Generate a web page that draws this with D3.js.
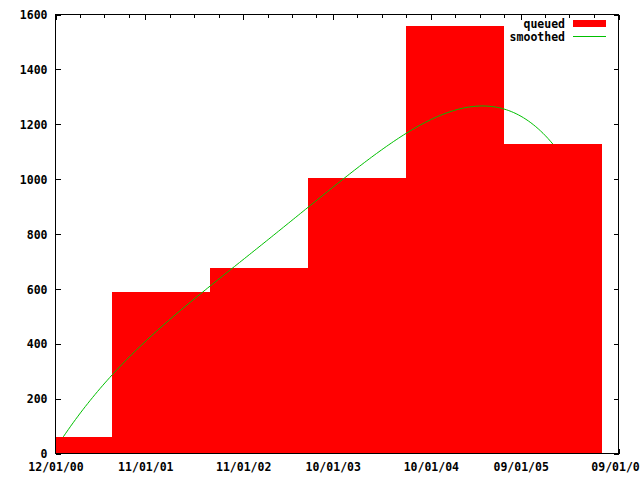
<!DOCTYPE html>
<html>
<head>
<meta charset="utf-8">
<script src="https://cdn.jsdelivr.net/npm/d3@7"></script>
<style>
  html, body { margin: 0; padding: 0; background: #fff; }
  svg { display: block; }
  text { font-family: "DejaVu Sans Mono", "Liberation Mono", monospace; font-weight: bold; font-size: 11.5px; fill: #000; }
</style>
</head>
<body>
<script>
// ---- data ----
const periods = ["2001-01-01", "2002-01-01", "2003-01-01", "2004-01-01", "2005-01-01", "2006-01-01"];
const queued = [59, 586, 674, 1002, 1555, 1126];
const xTickDates = ["2000-12-01", "2001-11-01", "2002-11-01", "2003-10-01", "2004-10-01", "2005-09-01", "2006-09-01"];
const yTicks = [0, 200, 400, 600, 800, 1000, 1200, 1400, 1600];
const seriesNames = ["queued", "smoothed"];

const W = 640, H = 480;
const L = 55, R = 618, T = 14, B = 453;

const parse = d3.utcParse("%Y-%m-%d");
const dates = periods.map(parse);
const tickDates = xTickDates.map(parse);

const svg = d3.select("body").append("svg").attr("width", W).attr("height", H);

const x = d3.scaleUtc().domain([tickDates[0], tickDates[tickDates.length - 1]]).range([L, R]);
const y = d3.scaleLinear().domain([0, 1600]).range([B, T]);

// minor ticks every 3 months after each major tick
const minor = [];
for (let i = 0; i < tickDates.length - 1; i++) {
  for (let m = 3; m < 12; m += 3) {
    const d = d3.utcMonth.offset(tickDates[i], m);
    if (d < tickDates[i + 1]) minor.push(d);
  }
}

const fmt = d3.utcFormat("%m/%d/%y");

// axes (ticks inward)
const gx = svg.append("g").attr("transform", `translate(0.5,${B + 0.5})`)
  .call(d3.axisBottom(x).tickValues(tickDates).tickFormat(fmt).tickSizeInner(-5).tickSizeOuter(0).tickPadding(9));
const gxm = svg.append("g").attr("transform", `translate(0.5,${B + 0.5})`)
  .call(d3.axisBottom(x).tickValues(minor).tickFormat("").tickSizeInner(-3).tickSizeOuter(0));
const gxt = svg.append("g").attr("transform", `translate(0.5,${T + 0.5})`)
  .call(d3.axisTop(x).tickValues(tickDates).tickFormat("").tickSizeInner(-5).tickSizeOuter(0));
const gxtm = svg.append("g").attr("transform", `translate(0.5,${T + 0.5})`)
  .call(d3.axisTop(x).tickValues(minor).tickFormat("").tickSizeInner(-3).tickSizeOuter(0));
const gy = svg.append("g").attr("transform", `translate(${L + 0.5},0.5)`)
  .call(d3.axisLeft(y).tickValues(yTicks).tickFormat(d3.format("d")).tickSizeInner(-5).tickSizeOuter(0).tickPadding(8));
const gyr = svg.append("g").attr("transform", `translate(${R + 0.5},0.5)`)
  .call(d3.axisRight(y).tickValues(yTicks).tickFormat("").tickSizeInner(-5).tickSizeOuter(0));

[gx, gxm, gxt, gxtm, gy, gyr].forEach(g => {
  g.select(".domain").remove();
  g.selectAll("line").attr("stroke", "#000").attr("stroke-width", 1).attr("shape-rendering", "crispEdges");
  g.selectAll("text").attr("font-family", null).attr("font-size", null).attr("fill", "#000");
});
gy.selectAll("text").attr("dy", "0.36em");

// bars: boxes spanning halfway to neighbouring periods, clipped to the plot
const t = dates.map(d => +d);
const edges = [];
for (let i = 0; i <= t.length; i++) {
  if (i === 0) edges.push(t[0] - (t[1] - t[0]) / 2);
  else if (i === t.length) edges.push(t[i - 1] + (t[i - 1] - t[i - 2]) / 2);
  else edges.push((t[i - 1] + t[i]) / 2);
}
const px = v => Math.round(x(new Date(v)));
const plot = svg.append("g");
plot.selectAll("rect.bar").data(queued).join("rect")
  .attr("class", "bar")
  .attr("x", (d, i) => Math.max(L + 1, px(edges[i])))
  .attr("width", (d, i) => Math.min(R, px(edges[i + 1])) - Math.max(L + 1, px(edges[i])))
  .attr("y", d => Math.round(y(d)))
  .attr("height", d => y(0) + 1 - Math.round(y(d)))
  .attr("fill", "#ff0000")
  .attr("shape-rendering", "crispEdges");

// smoothed: Bezier curve using all data points as control points
function bezier(pts, s) {
  let p = pts.map(q => q.slice());
  for (let k = p.length - 1; k > 0; k--) {
    for (let i = 0; i < k; i++) {
      p[i] = [p[i][0] + (p[i + 1][0] - p[i][0]) * s, p[i][1] + (p[i + 1][1] - p[i][1]) * s];
    }
  }
  return p[0];
}
const ctrl = t.map((v, i) => [v, queued[i]]);
const smooth = d3.range(0, 201).map(k => bezier(ctrl, k / 200));
plot.append("path")
  .attr("d", d3.line().x(d => x(new Date(d[0]))).y(d => y(d[1]))(smooth))
  .attr("fill", "none")
  .attr("stroke", "#00c000")
  .attr("stroke-width", 1);

// border
svg.append("rect").attr("x", L + 0.5).attr("y", T + 0.5).attr("width", R - L).attr("height", B - T)
  .attr("fill", "none").attr("stroke", "#000").attr("stroke-width", 1).attr("shape-rendering", "crispEdges");

// legend
const leg = svg.append("g");
leg.append("text").attr("x", 565).attr("y", 24).attr("dy", "0.36em").attr("text-anchor", "end").text(seriesNames[0]);
leg.append("rect").attr("x", 573).attr("y", 20).attr("width", 33).attr("height", 7).attr("fill", "#ff0000");
leg.append("text").attr("x", 565).attr("y", 37).attr("dy", "0.36em").attr("text-anchor", "end").text(seriesNames[1]);
leg.append("line").attr("x1", 573).attr("x2", 606).attr("y1", 36.5).attr("y2", 36.5).attr("stroke", "#00c000").attr("stroke-width", 1);
</script>
</body>
</html>
